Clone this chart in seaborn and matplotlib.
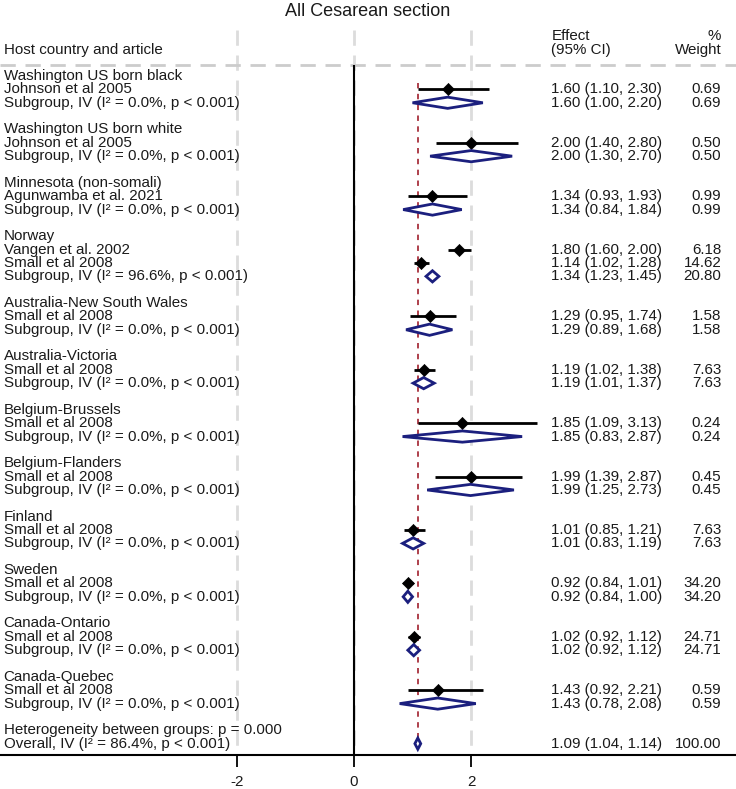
import matplotlib
matplotlib.use("Agg")
import matplotlib.pyplot as plt
import seaborn as sns
import numpy as np
import pandas as pd

# subgroup (host country) labels
groups = ["Washington US born black", "Washington US born white", "Minnesota (non-somali)",
          "Norway", "Australia-New South Wales", "Australia-Victoria", "Belgium-Brussels",
          "Belgium-Flanders", "Finland", "Sweden", "Canada-Ontario", "Canada-Quebec"]

# individual studies
study_names = ["Johnson et al 2005", "Johnson et al 2005", "Agunwamba et al. 2021",
               "Vangen et al. 2002", "Small et al 2008", "Small et al 2008", "Small et al 2008",
               "Small et al 2008", "Small et al 2008", "Small et al 2008", "Small et al 2008",
               "Small et al 2008", "Small et al 2008"]
study_grp = [0, 1, 2, 3, 3, 4, 5, 6, 7, 8, 9, 10, 11]
study_est = [1.60, 2.00, 1.34, 1.80, 1.14, 1.29, 1.19, 1.85, 1.99, 1.01, 0.92, 1.02, 1.43]
study_lo = [1.10, 1.40, 0.93, 1.60, 1.02, 0.95, 1.02, 1.09, 1.39, 0.85, 0.84, 0.92, 0.92]
study_hi = [2.30, 2.80, 1.93, 2.00, 1.28, 1.74, 1.38, 3.13, 2.87, 1.21, 1.01, 1.12, 2.21]
study_wt = [0.69, 0.50, 0.99, 6.18, 14.62, 1.58, 7.63, 0.24, 0.45, 7.63, 34.20, 24.71, 0.59]

# subgroup pooled estimates
sub_est = [1.60, 2.00, 1.34, 1.34, 1.29, 1.19, 1.85, 1.99, 1.01, 0.92, 1.02, 1.43]
sub_lo = [1.00, 1.30, 0.84, 1.23, 0.89, 1.01, 0.83, 1.25, 0.83, 0.84, 0.92, 0.78]
sub_hi = [2.20, 2.70, 1.84, 1.45, 1.68, 1.37, 2.87, 2.73, 1.19, 1.00, 1.12, 2.08]
sub_wt = [0.69, 0.50, 0.99, 20.80, 1.58, 7.63, 0.24, 0.45, 7.63, 34.20, 24.71, 0.59]
sub_i2 = [0.0, 0.0, 0.0, 96.6, 0.0, 0.0, 0.0, 0.0, 0.0, 0.0, 0.0, 0.0]

# overall
overall = [1.09, 1.04, 1.14]
overall_i2 = 86.4
het_text = "Heterogeneity between groups: p = 0.000"

sns.set_theme(style="white")
plt.rcParams['font.family'] = ['Liberation Sans', 'DejaVu Sans']

txt = "#1a1a1a"
navy = "#1b1f7e"
fs = 10.9

# lay out rows
rows_text = []   # (row, label, effect text, weight text)
study_rows = []
sub_rows = []
r = 0
for g, name in enumerate(groups):
    rows_text.append((r, name, "", ""))
    r += 1
    for k in range(len(study_names)):
        if study_grp[k] == g:
            study_rows.append(r)
            rows_text.append((r, study_names[k],
                              f"{study_est[k]:.2f} ({study_lo[k]:.2f}, {study_hi[k]:.2f})",
                              f"{study_wt[k]:.2f}"))
            r += 1
    sub_rows.append(r)
    rows_text.append((r, f"Subgroup, IV (I² = {sub_i2[g]:.1f}%, p < 0.001)",
                      f"{sub_est[g]:.2f} ({sub_lo[g]:.2f}, {sub_hi[g]:.2f})",
                      f"{sub_wt[g]:.2f}"))
    r += 2
rows_text.append((r, het_text, "", ""))
r += 1
overall_row = r
rows_text.append((r, f"Overall, IV (I² = {overall_i2:.1f}%, p < 0.001)",
                  f"{overall[0]:.2f} ({overall[1]:.2f}, {overall[2]:.2f})", "100.00"))

fig = plt.figure(figsize=(7.36, 7.89), dpi=100)
ax = fig.add_axes([0, 34 / 789, 1, 725 / 789])
ax.set_xlim(-6.04, 6.52)
ax.set_ylim(50.85, -3.45)

# grid and reference lines
ax.vlines([-2, 0, 2], -3.45, 50.85, colors="#dcdcdc", lw=2, linestyles=(0, (5.5, 3.5)), zorder=0)
ax.axhline(-0.82, color="#cccccc", lw=2, dashes=(5.5, 3.5), zorder=1)
ax.vlines(0, -0.82, 50.85, colors="black", lw=1.5, zorder=2)
ax.vlines(overall[0], 0.5, overall_row + 0.45, colors="#a8323e", lw=1.3,
          linestyles=(0, (3, 3)), zorder=2)

# study CIs and points
ax.hlines(study_rows, study_lo, study_hi, colors="black", lw=2, zorder=3)
df = pd.DataFrame({"est": study_est, "row": study_rows})
sns.scatterplot(data=df, x="est", y="row", marker="D", color="black", s=38,
                edgecolor="black", ax=ax, legend=False, zorder=4)

# subgroup diamonds
h = 0.42
for y, e, lo, hi in zip(sub_rows, sub_est, sub_lo, sub_hi):
    ax.fill([lo, e, hi, e], [y, y - h, y, y + h], facecolor="white",
            edgecolor=navy, lw=2, zorder=4)
ax.fill([overall[1], overall[0], overall[2], overall[0]],
        [overall_row, overall_row - h, overall_row, overall_row + h],
        facecolor="white", edgecolor=navy, lw=2, zorder=4)

# text columns
x_lab, x_eff, x_wt = -5.98, 3.37, 6.27
for y, lab, eff, wt in rows_text:
    ax.text(x_lab, y, lab, ha="left", va="center", fontsize=fs, color=txt)
    if eff:
        ax.text(x_eff, y, eff, ha="left", va="center", fontsize=fs, color=txt)
        ax.text(x_wt, y, wt, ha="right", va="center", fontsize=fs, color=txt)

ax.text(x_lab, -1.95, "Host country and article", ha="left", va="center", fontsize=fs, color=txt)
ax.text(x_eff, -3.0, "Effect", ha="left", va="center", fontsize=fs, color=txt)
ax.text(x_eff, -1.95, "(95% CI)", ha="left", va="center", fontsize=fs, color=txt)
ax.text(x_wt, -3.0, "%", ha="right", va="center", fontsize=fs, color=txt)
ax.text(x_wt, -1.95, "Weight", ha="right", va="center", fontsize=fs, color=txt)

fig.text(0.5, 1 - 12 / 789, "All Cesarean section", ha="center", va="center",
         fontsize=13, color=txt)

# axes styling
for s in ["top", "left", "right"]:
    ax.spines[s].set_visible(False)
ax.spines["bottom"].set_color("black")
ax.spines["bottom"].set_linewidth(1.5)
ax.set_xticks([-2, 0, 2])
ax.set_xticklabels(["-2", "0", "2"])
ax.set_yticks([])
ax.tick_params(axis="x", direction="out", length=8.6, width=1.3, color="black",
               labelsize=fs, labelcolor=txt, pad=6, bottom=True)
ax.set_xlabel("")
ax.set_ylabel("")

fig.savefig("out.png", dpi=100)
